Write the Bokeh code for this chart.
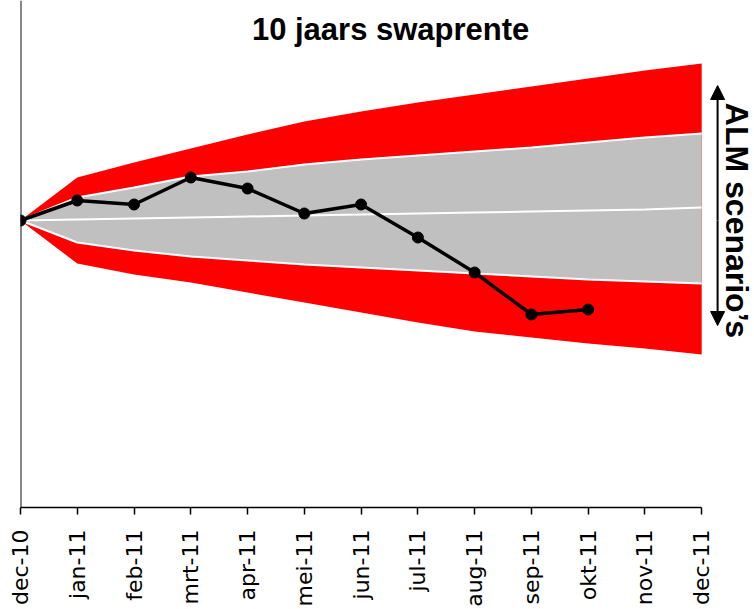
import math
from bokeh.plotting import figure
from bokeh.models import Range1d, FixedTicker, Label, Arrow, NormalHead, Span
from bokeh.embed import file_html
from bokeh.resources import INLINE

# --- data ---
months = ["dec-10", "jan-11", "feb-11", "mrt-11", "apr-11", "mei-11", "jun-11",
          "jul-11", "aug-11", "sep-11", "okt-11", "nov-11", "dec-11"]
red_top = [3.00, 3.43, 3.58, 3.72, 3.86, 3.99, 4.09, 4.18, 4.26, 4.34, 4.42, 4.50, 4.57]
grey_top = [3.00, 3.23, 3.33, 3.44, 3.49, 3.56, 3.61, 3.65, 3.69, 3.73, 3.78, 3.83, 3.87]
median = [3.00, 3.01, 3.02, 3.03, 3.04, 3.05, 3.06, 3.07, 3.08, 3.09, 3.10, 3.11, 3.13]
grey_bottom = [3.00, 2.78, 2.70, 2.64, 2.60, 2.56, 2.53, 2.50, 2.47, 2.44, 2.41, 2.39, 2.37]
red_bottom = [3.00, 2.57, 2.46, 2.38, 2.28, 2.18, 2.08, 1.98, 1.89, 1.83, 1.77, 1.72, 1.66]
actual = [3.00, 3.20, 3.16, 3.43, 3.32, 3.07, 3.16, 2.83, 2.48, 2.06, 2.11]

x_all = list(range(len(months)))
x_act = list(range(len(actual)))

p = figure(width=754, height=609, output_backend="svg", toolbar_location=None,
           x_range=Range1d(0, 12.93), y_range=Range1d(0.13, 5.20),
           y_axis_location=None, min_border_left=20, min_border_right=0,
           min_border_top=0, min_border_bottom=102)
p.outline_line_color = None
p.xgrid.visible = False
p.ygrid.visible = False

p.varea(x=x_all, y1=red_bottom, y2=red_top, fill_color="#FF0000")
p.varea(x=x_all, y1=grey_bottom, y2=grey_top, fill_color="#C0C0C0")
for s in (grey_top, median, grey_bottom):
    p.line(x_all, s, line_color="white", line_width=2)

p.line(x_act, actual, line_color="black", line_width=3.5)
p.scatter(x_act, actual, size=11, fill_color="black", line_color="black")

# y axis line
p.add_layout(Span(location=0, dimension="height", line_color="#111111", line_width=2))

ax = p.xaxis[0]
ax.bounds = (0, 12)
ax.ticker = FixedTicker(ticks=x_all)
ax.major_label_overrides = {i: m for i, m in enumerate(months)}
ax.major_label_orientation = math.pi / 2
ax.major_label_text_font = "DejaVu Sans"
ax.major_label_text_font_size = "22px"
ax.major_label_text_color = "black"
ax.major_label_standoff = 15
ax.major_tick_out = 7
ax.major_tick_in = 0
ax.minor_tick_line_color = None
ax.axis_line_color = "black"
ax.axis_line_width = 1.5
ax.major_tick_line_color = "black"
ax.major_tick_line_width = 1.5

# title
p.add_layout(Label(x=6.52, y=4.91, text="10 jaars swaprente", text_align="center",
                   text_baseline="middle", text_font="Liberation Sans",
                   text_font_style="bold", text_font_size="31px", text_color="black"))

# arrow + rotated text
for y_end in (4.35, 1.95):
    p.add_layout(Arrow(x_start=12.28, y_start=3.0, x_end=12.28, y_end=y_end,
                       line_color="black", line_width=2,
                       end=NormalHead(size=14, fill_color="black", line_color="black")))
p.add_layout(Label(x=12.63, y=3.0, text="ALM scenario\u2019s", angle=-math.pi / 2,
                   text_align="center", text_baseline="middle",
                   text_font="Liberation Sans", text_font_style="bold",
                   text_font_size="32px", text_color="black"))

open("out.html", "w").write(file_html(p, INLINE))
